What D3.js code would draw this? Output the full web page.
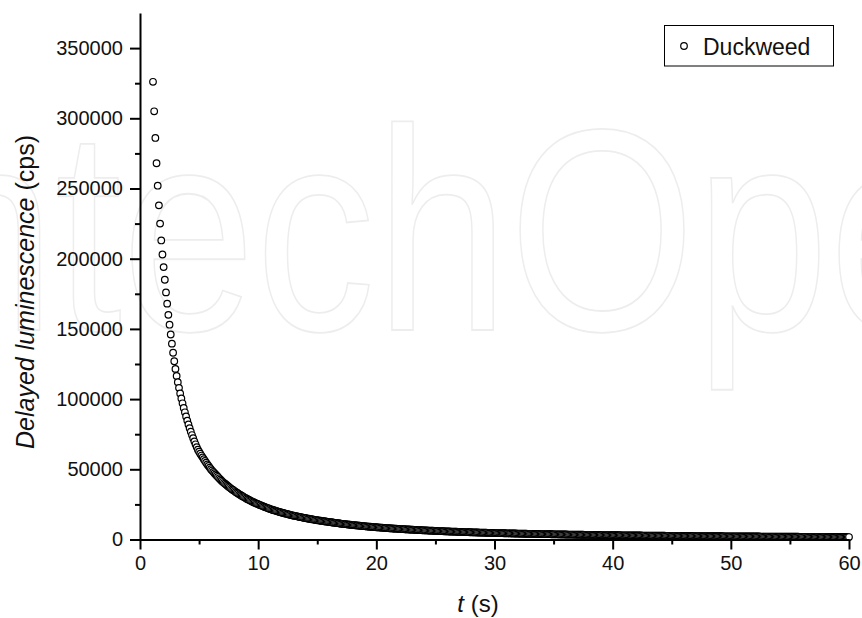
<!DOCTYPE html>
<html>
<head>
<meta charset="utf-8">
<script src="https://cdn.jsdelivr.net/npm/d3@7/dist/d3.min.js"></script>
<style>
  html, body { margin: 0; padding: 0; background: #fff; }
  svg { display: block; }
  text { font-family: "Liberation Sans", Arial, sans-serif; fill: #111; }
</style>
</head>
<body>
<svg id="chart" width="862" height="618"></svg>
<script>
// ---- data (delayed luminescence of duckweed, cps; sampled every 0.1 s) ----
const sampleStep = 0.1;
const segmentStart = [1.1, 5.1, 20.1, 40.1];
const lumEarly = [326000, 305000, 286000, 268000, 252000, 238000, 225000, 213000, 203000, 194000,
  185000, 176000, 168000, 160000, 153000, 146000, 139500, 133000, 127000, 121500,
  116500, 112000, 108000, 104000, 100500, 97000, 93700, 90600, 87600, 84700,
  81900, 79300, 76800, 74400, 72100, 69900, 67800, 65800, 64000, 62500];
const lumMid = [61100, 59800, 58500, 57200, 56000, 54700, 53500, 52400, 51200, 50100,
  49100, 48200, 47200, 46300, 45400, 44500, 43600, 42800, 41900, 41100,
  40400, 39700, 39000, 38300, 37600, 37000, 36300, 35700, 35100, 34500,
  33900, 33300, 32800, 32200, 31700, 31200, 30700, 30200, 29700, 29200,
  28700, 28300, 27900, 27500, 27000, 26600, 26200, 25800, 25500, 25100,
  24700, 24400, 24000, 23700, 23400, 23000, 22700, 22400, 22100, 21700,
  21500, 21200, 20900, 20700, 20400, 20200, 19900, 19600, 19400, 19200,
  18900, 18700, 18500, 18300, 18100, 17800, 17600, 17400, 17200, 17000,
  16800, 16700, 16500, 16300, 16100, 15900, 15800, 15600, 15400, 15300,
  15100, 14900, 14800, 14600, 14500, 14300, 14200, 14000, 13900, 13800,
  13600, 13500, 13400, 13200, 13100, 13000, 12900, 12700, 12600, 12500,
  12400, 12300, 12100, 12000, 11900, 11800, 11700, 11600, 11400, 11300,
  11200, 11100, 11000, 10900, 10800, 10700, 10600, 10500, 10400, 10300,
  10250, 10160, 10070, 9980, 9900, 9810, 9720, 9640, 9550, 9470,
  9390, 9310, 9240, 9160, 9080, 9010, 8930, 8860, 8780, 8710];
const lumTail1 = [8650, 8580, 8520, 8460, 8390, 8330, 8270, 8210, 8150, 8090,
  8030, 7970, 7910, 7850, 7790, 7740, 7680, 7620, 7570, 7510,
  7460, 7410, 7360, 7310, 7260, 7210, 7160, 7110, 7060, 7010,
  6970, 6920, 6870, 6820, 6780, 6730, 6690, 6640, 6600, 6550,
  6510, 6470, 6430, 6390, 6350, 6310, 6270, 6230, 6190, 6150,
  6110, 6070, 6030, 5990, 5960, 5920, 5880, 5840, 5810, 5770,
  5740, 5700, 5670, 5640, 5610, 5580, 5540, 5510, 5480, 5450,
  5420, 5390, 5360, 5330, 5300, 5270, 5240, 5210, 5180, 5150,
  5120, 5100, 5070, 5040, 5010, 4990, 4960, 4940, 4910, 4880,
  4860, 4830, 4810, 4780, 4760, 4730, 4700, 4680, 4660, 4630,
  4610, 4590, 4570, 4550, 4520, 4500, 4480, 4460, 4440, 4420,
  4400, 4380, 4360, 4340, 4320, 4300, 4280, 4260, 4240, 4220,
  4200, 4180, 4160, 4150, 4130, 4110, 4090, 4070, 4050, 4030,
  4010, 4000, 3980, 3970, 3950, 3930, 3920, 3900, 3890, 3870,
  3860, 3840, 3820, 3810, 3790, 3780, 3760, 3750, 3730, 3720,
  3700, 3690, 3670, 3660, 3640, 3630, 3610, 3600, 3590, 3570,
  3560, 3540, 3530, 3520, 3500, 3490, 3480, 3460, 3450, 3440,
  3430, 3410, 3400, 3390, 3370, 3360, 3350, 3340, 3320, 3310,
  3300, 3290, 3270, 3260, 3250, 3240, 3230, 3210, 3200, 3190,
  3180, 3160, 3150, 3140, 3130, 3120, 3110, 3090, 3080, 3070];
const lumTail2 = [3060, 3050, 3040, 3030, 3020, 3010, 3000, 2990, 2980, 2970,
  2960, 2950, 2940, 2930, 2920, 2920, 2910, 2900, 2890, 2880,
  2870, 2860, 2850, 2840, 2830, 2820, 2810, 2800, 2790, 2780,
  2780, 2770, 2760, 2750, 2740, 2730, 2720, 2710, 2700, 2700,
  2690, 2680, 2670, 2660, 2650, 2640, 2640, 2630, 2620, 2610,
  2600, 2590, 2590, 2580, 2570, 2560, 2560, 2550, 2540, 2530,
  2530, 2520, 2510, 2500, 2500, 2490, 2480, 2480, 2470, 2460,
  2450, 2450, 2440, 2430, 2420, 2420, 2410, 2400, 2400, 2390,
  2380, 2370, 2370, 2360, 2350, 2350, 2340, 2330, 2330, 2320,
  2310, 2300, 2300, 2290, 2280, 2280, 2270, 2260, 2260, 2250,
  2240, 2240, 2230, 2230, 2220, 2220, 2210, 2200, 2200, 2190,
  2190, 2180, 2180, 2170, 2170, 2160, 2160, 2150, 2140, 2140,
  2130, 2130, 2120, 2120, 2110, 2110, 2100, 2100, 2090, 2080,
  2080, 2070, 2070, 2060, 2060, 2050, 2050, 2040, 2040, 2030,
  2030, 2020, 2020, 2010, 2010, 2000, 2000, 1990, 1990, 1980,
  1980, 1970, 1970, 1960, 1960, 1950, 1950, 1940, 1940, 1930,
  1930, 1930, 1920, 1920, 1910, 1910, 1900, 1900, 1890, 1890,
  1880, 1880, 1880, 1870, 1870, 1860, 1860, 1850, 1850, 1850,
  1840, 1840, 1830, 1830, 1820, 1820, 1820, 1810, 1810, 1800,
  1800, 1790, 1790, 1790, 1780, 1780, 1770, 1770, 1760, 1760];
const segments = [lumEarly, lumMid, lumTail1, lumTail2];

const xMajorTicks = [0, 10, 20, 30, 40, 50, 60];
const xMinorTicks = [5, 15, 25, 35, 45, 55];
const yMajorTicks = [0, 50000, 100000, 150000, 200000, 250000, 300000, 350000];
const yMinorTicks = [25000, 75000, 125000, 175000, 225000, 275000, 325000];
const seriesName = "Duckweed";

// ---- build points ----
const points = [];
segments.forEach((vals, s) => {
  vals.forEach((v, i) => points.push({ t: +(segmentStart[s] + i * sampleStep).toFixed(2), v }));
});

const svg = d3.select("#chart");

// faint watermark
svg.append("text")
  .attr("transform", "translate(-145,330) scale(1,1.2)")
  .attr("font-size", 240)
  .style("fill", "none").style("stroke", "#ededed").style("stroke-width", 1.5)
  .text("IntechOpen");

const x = d3.scaleLinear().domain([0, 60]).range([140, 849]);
const y = d3.scaleLinear().domain([0, 375000]).range([539.5, 13]);

// points
svg.append("g").selectAll("circle").data(points).join("circle")
  .attr("cx", d => x(d.t)).attr("cy", d => y(d.v)).attr("r", 3.3)
  .attr("fill", "#fff").attr("stroke", "#000").attr("stroke-width", 1.2);

// axes
const fontSize = 20;
svg.append("g").attr("transform", `translate(0,${y(0)})`)
  .call(d3.axisBottom(x).tickValues(xMajorTicks).tickSize(10).tickSizeOuter(0).tickPadding(6).tickFormat(d3.format("d")));
svg.append("g").attr("transform", `translate(0,${y(0)})`)
  .call(d3.axisBottom(x).tickValues(xMinorTicks).tickSize(5).tickSizeOuter(0).tickFormat(""))
  .select(".domain").remove();
svg.append("g").attr("transform", `translate(${x(0)},0)`)
  .call(d3.axisLeft(y).tickValues(yMajorTicks).tickSize(10).tickSizeOuter(0).tickPadding(7).tickFormat(d3.format("d")));
svg.append("g").attr("transform", `translate(${x(0)},0)`)
  .call(d3.axisLeft(y).tickValues(yMinorTicks).tickSize(5).tickSizeOuter(0).tickFormat(""))
  .select(".domain").remove();

svg.selectAll(".domain, .tick line").attr("stroke", "#000").attr("stroke-width", 2);
svg.selectAll(".tick text").attr("font-size", fontSize).style("font-family", '"Liberation Sans", Arial, sans-serif').attr("fill", "#111");

// axis titles
const yt = svg.append("text").attr("transform", "translate(33.5,292) rotate(-90)")
  .attr("text-anchor", "middle").attr("font-size", 25);
yt.append("tspan").attr("font-style", "italic").text("Delayed luminescence");
yt.append("tspan").text(" (cps)");

const xt = svg.append("text").attr("x", 478).attr("y", 612)
  .attr("text-anchor", "middle").attr("font-size", 24);
xt.append("tspan").attr("font-style", "italic").text("t");
xt.append("tspan").text(" (s)");

// legend
const lg = svg.append("g");
lg.append("rect").attr("x", 664.5).attr("y", 25.5).attr("width", 169).attr("height", 40.5)
  .attr("fill", "#fff").attr("stroke", "#000").attr("stroke-width", 1);
lg.append("circle").attr("cx", 684).attr("cy", 46).attr("r", 3.3)
  .attr("fill", "#fff").attr("stroke", "#000").attr("stroke-width", 1.2);
lg.append("text").attr("x", 703).attr("y", 54.5).attr("font-size", 23).text(seriesName);
</script>
</body>
</html>
